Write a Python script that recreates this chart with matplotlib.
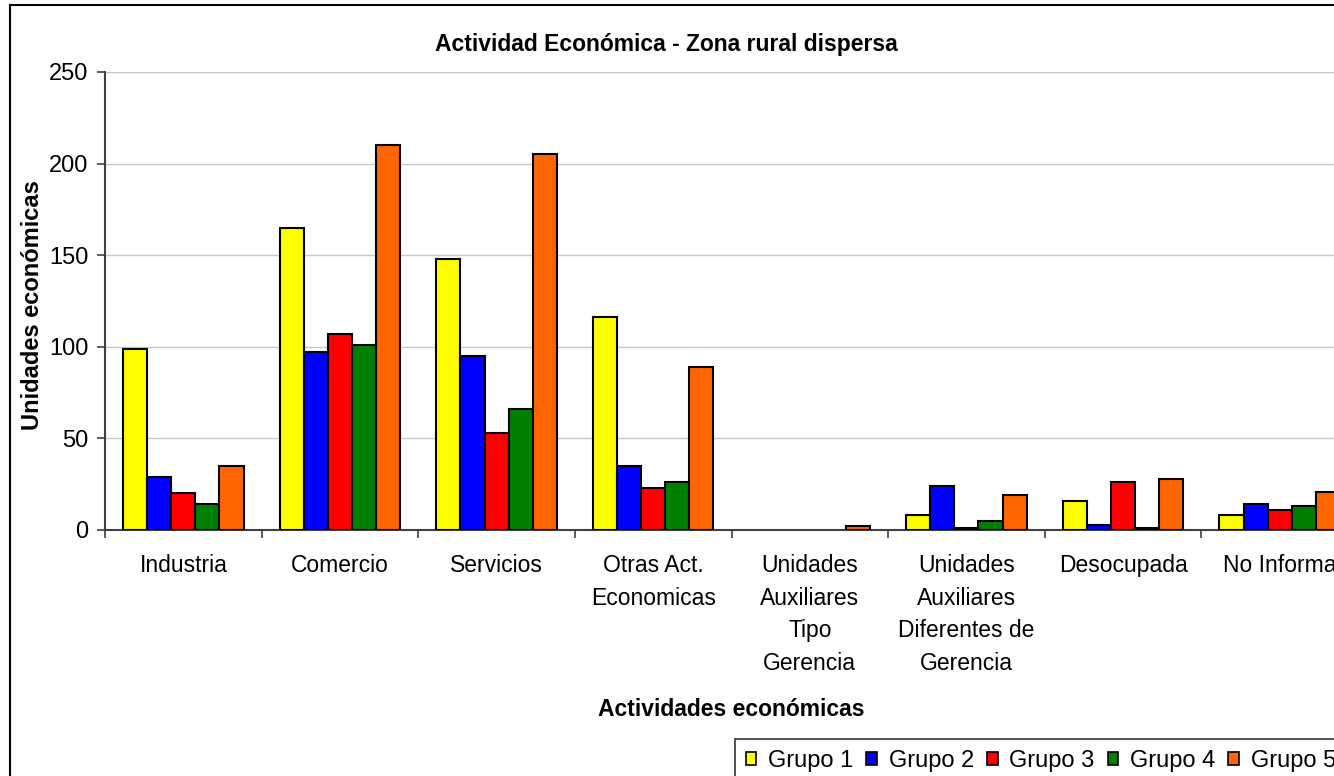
import numpy as np
import matplotlib.pyplot as plt
from matplotlib.patches import Rectangle, Patch

plt.rcParams['font.family'] = ['Liberation Sans', 'DejaVu Sans']

categorias = ['Industria', 'Comercio', 'Servicios', 'Otras Act.\nEconomicas',
              'Unidades\nAuxiliares\nTipo\nGerencia',
              'Unidades\nAuxiliares\nDiferentes de\nGerencia',
              'Desocupada', 'No Informa']
grupos = ['Grupo 1', 'Grupo 2', 'Grupo 3', 'Grupo 4', 'Grupo 5']
grupo1 = [99, 165, 148, 116, 0, 8, 16, 8]
grupo2 = [29, 97, 95, 35, 0, 24, 3, 14]
grupo3 = [20, 107, 53, 23, 0, 1, 26, 11]
grupo4 = [14, 101, 66, 26, 0, 5, 1, 13]
grupo5 = [35, 210, 205, 89, 2, 19, 28, 21]
colores = ['#FFFF00', '#0000FF', '#FF0000', '#008000', '#FF6600']

W, H = 1334, 776
fig = plt.figure(figsize=(W / 100, H / 100), dpi=100)

# chart area border (runs past the right/bottom edge, like the screenshot)
fig.patches.append(Rectangle((10 / W, -0.1), 1.2, 1 - 5 / H + 0.1,
                             transform=fig.transFigure, fill=False,
                             edgecolor='black', linewidth=1.5))

ax = fig.add_axes([105 / W, 1 - 530 / H, 1253 / W, 458 / H])

x = np.arange(len(categorias))
bw = 1 / 6.5
series = [grupo1, grupo2, grupo3, grupo4, grupo5]
for i, vals in enumerate(series):
    lws = [1.5 if v > 0 else 0 for v in vals]
    ax.bar(x - 2 * bw + i * bw, vals, width=bw, color=colores[i],
           edgecolor='black', linewidth=lws, label=grupos[i], zorder=3)

ax.set_xlim(-0.5, len(categorias) - 0.5)
ax.set_ylim(0, 250)
ax.set_yticks([0, 50, 100, 150, 200, 250])
ax.grid(axis='y', color='#c8c8c8', linewidth=1, zorder=0)
ax.axhline(250, color='#808080', linewidth=1.5, zorder=1)

ax.set_xticks(np.arange(len(categorias) + 1) - 0.5)
ax.set_xticklabels([])
ax.set_xticks(x, minor=True)
ax.set_xticklabels(categorias, minor=True, linespacing=1.55)
ax.tick_params(axis='x', which='minor', length=0, pad=17, labelsize=16.5)
ax.tick_params(axis='x', which='major', length=6, width=1.2, color='#404040')
ax.tick_params(axis='y', length=6, width=1.2, color='#404040', labelsize=17, pad=6)

for s in ['top', 'right']:
    ax.spines[s].set_visible(False)
for s in ['left', 'bottom']:
    ax.spines[s].set_color('#404040')
    ax.spines[s].set_linewidth(1.5)

fig.text(666 / W, 1 - 44 / H, 'Actividad Económica - Zona rural dispersa',
         ha='center', va='center', fontsize=16.5, fontweight='bold')
fig.text(731 / W, 1 - 710 / H, 'Actividades económicas',
         ha='center', va='center', fontsize=16.5, fontweight='bold')
fig.text(33 / W, 1 - 305 / H, 'Unidades económicas', rotation=90,
         ha='center', va='center', fontsize=17, fontweight='bold')

handles = [Patch(facecolor=c, edgecolor='black', linewidth=1.2) for c in colores]
leg = fig.legend(handles, grupos, loc='upper left',
                 bbox_to_anchor=(735 / W, 1 - 739 / H), ncol=5, fontsize=17,
                 frameon=True, fancybox=False, edgecolor='black',
                 handlelength=0.45, handleheight=0.45, handletextpad=0.5,
                 columnspacing=0.55, borderaxespad=0, borderpad=0.45)
leg.get_frame().set_linewidth(1.2)

fig.savefig('out.png', dpi=100)
